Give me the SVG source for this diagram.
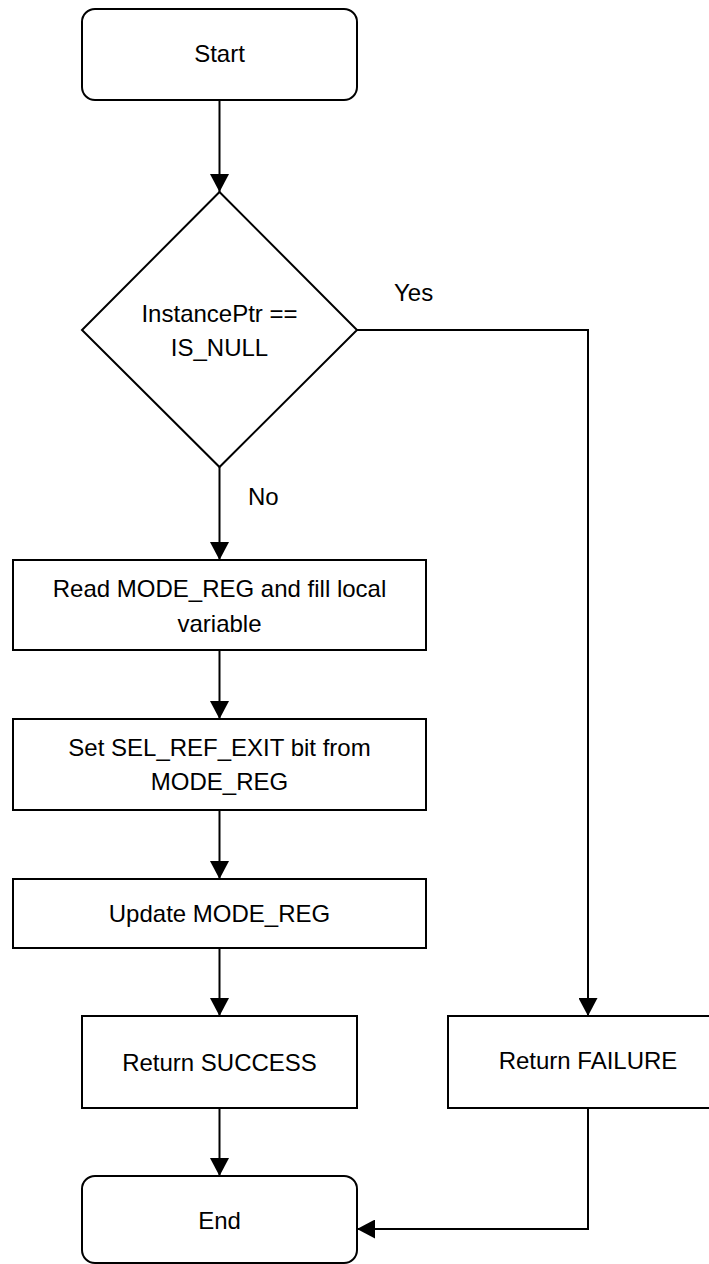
<svg xmlns="http://www.w3.org/2000/svg" width="709" height="1264" viewBox="0 0 709 1264">
  <defs>
    <marker id="arrow" markerWidth="19" markerHeight="19" viewBox="0 0 19 19" refX="18" refY="9.5" orient="auto" markerUnits="userSpaceOnUse">
      <path d="M0,0 L18,9.5 L0,19 Z" fill="#000"/>
    </marker>
    <style>
      .shape { fill: #fff; stroke: #000; stroke-width: 2; }
      .conn { fill: none; stroke: #000; stroke-width: 2; marker-end: url(#arrow); }
      text { font-family: "Liberation Sans", Arial, sans-serif; font-size: 24px; fill: #000; }
      .c { text-anchor: middle; }
    </style>
  </defs>
  <rect width="709" height="1264" fill="#fff"/>

  <g id="connectors">
    <path class="conn" d="M219.5,100 L219.5,192"/>
    <path class="conn" d="M219.5,467 L219.5,560"/>
    <path class="conn" d="M219.5,650 L219.5,719"/>
    <path class="conn" d="M219.5,810 L219.5,879"/>
    <path class="conn" d="M219.5,948 L219.5,1016"/>
    <path class="conn" d="M219.5,1108 L219.5,1176"/>
    <path class="conn" d="M357,330 L588,330 L588,1016"/>
    <path class="conn" d="M588,1108 L588,1229 L357,1229"/>
    <text x="394" y="301">Yes</text>
    <text x="248" y="505">No</text>
  </g>

  <g id="start">
    <rect class="shape" x="82" y="9" width="275" height="91" rx="13" ry="13"/>
    <text class="c" x="219.5" y="62">Start</text>
  </g>

  <g id="decision">
    <polygon class="shape" points="219.5,192 357,330 219.5,467 82,330"/>
    <text class="c" x="219.5" y="322">InstancePtr ==</text>
    <text class="c" x="219.5" y="356">IS_NULL</text>
  </g>

  <g id="read">
    <rect class="shape" x="13" y="560" width="413" height="90"/>
    <text class="c" x="219.5" y="597">Read MODE_REG and fill local</text>
    <text class="c" x="219.5" y="632">variable</text>
  </g>

  <g id="set">
    <rect class="shape" x="13" y="719" width="413" height="91"/>
    <text class="c" x="219.5" y="756">Set SEL_REF_EXIT bit from</text>
    <text class="c" x="219.5" y="790">MODE_REG</text>
  </g>

  <g id="update">
    <rect class="shape" x="13" y="879" width="413" height="69"/>
    <text class="c" x="219.5" y="922">Update MODE_REG</text>
  </g>

  <g id="success">
    <rect class="shape" x="82" y="1016" width="275" height="92"/>
    <text class="c" x="219.5" y="1071">Return SUCCESS</text>
  </g>

  <g id="failure">
    <rect class="shape" x="448" y="1016" width="281" height="92"/>
    <text class="c" x="588" y="1069">Return FAILURE</text>
  </g>

  <g id="end">
    <rect class="shape" x="82" y="1176" width="275" height="87" rx="13" ry="13"/>
    <text class="c" x="219.5" y="1229">End</text>
  </g>
</svg>
